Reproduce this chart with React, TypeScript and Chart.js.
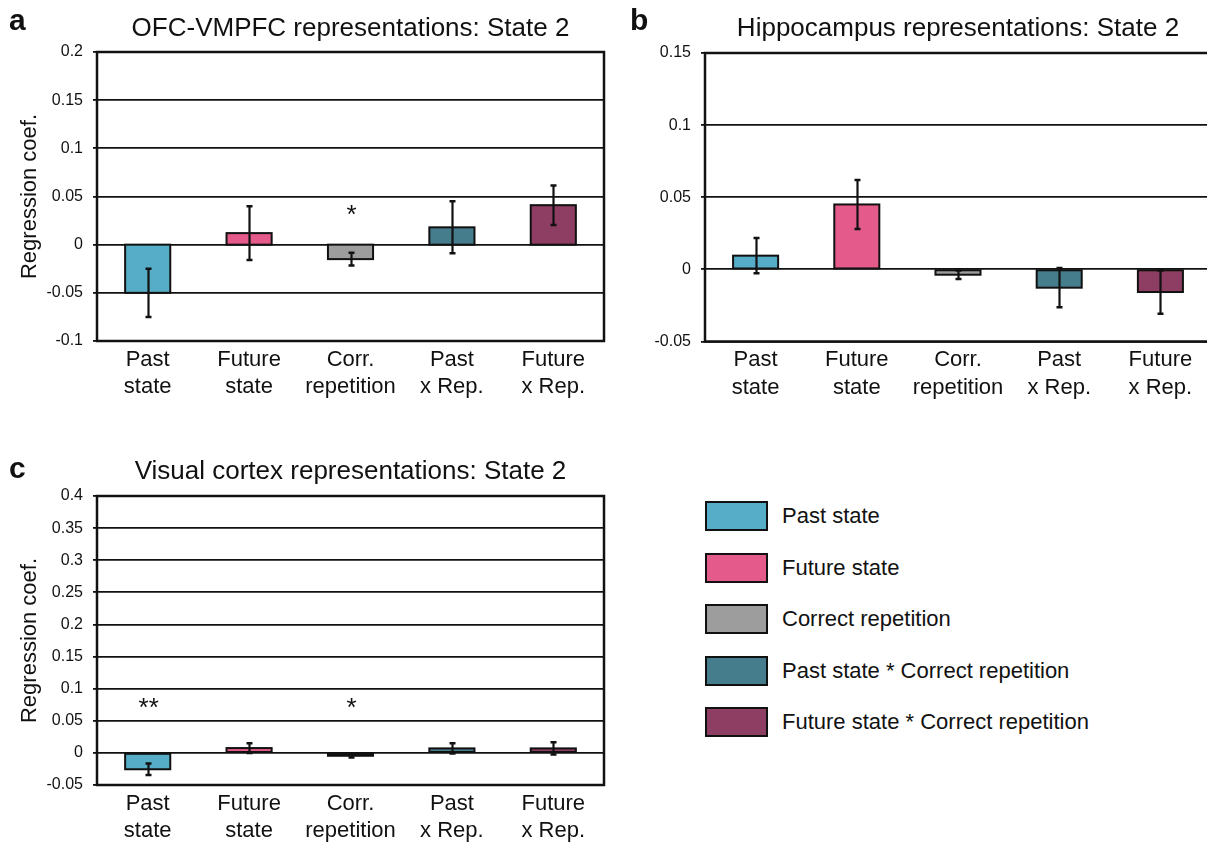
import React, { useEffect, useRef } from 'react';
import { Chart, registerables } from 'chart.js';

Chart.register(...registerables);

const FONT = "'Liberation Sans', Arial, Helvetica, sans-serif";
const INK = '#111111';

// ---------- data ----------
const categories: string[][] = [
  ['Past', 'state'],
  ['Future', 'state'],
  ['Corr.', 'repetition'],
  ['Past', 'x Rep.'],
  ['Future', 'x Rep.'],
];
const legendNames = [
  'Past state',
  'Future state',
  'Correct repetition',
  'Past state * Correct repetition',
  'Future state * Correct repetition',
];
const barColors = ['#55adc7', '#e35a8b', '#9d9d9d', '#457d8c', '#8e3e62'];

// a: OFC-VMPFC
const ofcValues = [-0.05, 0.012, -0.015, 0.018, 0.041];
const ofcErrors = [0.025, 0.028, 0.0065, 0.027, 0.0205];
const ofcSignif = ['', '', '*', '', ''];

// b: Hippocampus
const hippoValues = [0.0095, 0.045, -0.0037, -0.0127, -0.0157];
const hippoErrors = [0.0122, 0.017, 0.003, 0.0136, 0.015];
const hippoSignif = ['', '', '', '', ''];

// c: Visual cortex
const visualValues = [-0.0255, 0.0075, -0.0045, 0.007, 0.007];
const visualErrors = [0.009, 0.0075, 0.0025, 0.008, 0.0095];
const visualSignif = ['**', '', '*', '', ''];

type Panel = {
  title: string;
  values: number[];
  errors: number[];
  signif: string[];
  sigAt: number;
  min: number;
  max: number;
  step: number;
  yTitle: string | null;
  box: { left: number; top: number; w: number; h: number };
  axisW: number;
  axisH: number;
  padR: number;
  titleTop: number;
  titleBottom: number;
};

const panels: Panel[] = [
  {
    title: 'OFC-VMPFC representations: State 2',
    values: ofcValues, errors: ofcErrors, signif: ofcSignif, sigAt: 0.036,
    min: -0.1, max: 0.2, step: 0.05, yTitle: 'Regression coef.',
    box: { left: 0, top: 0, w: 620, h: 420 },
    axisW: 97, axisH: 79, padR: 16, titleTop: 13.5, titleBottom: 7.3,
  },
  {
    title: 'Hippocampus representations: State 2',
    values: hippoValues, errors: hippoErrors, signif: hippoSignif, sigAt: 0,
    min: -0.05, max: 0.15, step: 0.05, yTitle: null,
    box: { left: 600, top: 0, w: 620, h: 420 },
    axisW: 105, axisH: 78.5, padR: 9, titleTop: 13.5, titleBottom: 8.3,
  },
  {
    title: 'Visual cortex representations: State 2',
    values: visualValues, errors: visualErrors, signif: visualSignif, sigAt: 0.077,
    min: -0.05, max: 0.4, step: 0.05, yTitle: 'Regression coef.',
    box: { left: 0, top: 440, w: 620, h: 408 },
    axisW: 97, axisH: 63, padR: 16, titleTop: 16.5, titleBottom: 8.3,
  },
];

function BarPanel({ p }: { p: Panel }) {
  const ref = useRef<HTMLCanvasElement | null>(null);
  useEffect(() => {
    if (!ref.current) return;
    const overlayPlugin = {
      id: 'barOutlineErrorBarsFrame',
      afterDatasetsDraw(chart: any) {
        const { ctx, chartArea, scales } = chart;
        const y = scales.y;
        const meta = chart.getDatasetMeta(0);
        ctx.save();
        ctx.strokeStyle = INK;
        // bar outlines (stroked on the edge, so thin bars keep their colour)
        ctx.lineWidth = 2;
        meta.data.forEach((bar: any) => {
          const top = Math.min(bar.y, bar.base);
          const h = Math.abs(bar.base - bar.y);
          ctx.strokeRect(bar.x - bar.width / 2, top, bar.width, h);
        });
        // frame
        ctx.lineWidth = 2.5;
        ctx.strokeRect(chartArea.left, chartArea.top, chartArea.right - chartArea.left, chartArea.bottom - chartArea.top);
        // error bars
        meta.data.forEach((bar: any, i: number) => {
          const v = p.values[i];
          const e = p.errors[i];
          const x = Math.round(bar.x) + 0.5;
          const yT = y.getPixelForValue(v + e);
          const yB = y.getPixelForValue(v - e);
          ctx.lineWidth = 2.2;
          ctx.beginPath();
          ctx.moveTo(x, yT);
          ctx.lineTo(x, yB);
          ctx.stroke();
          ctx.lineWidth = 2.5;
          ctx.beginPath();
          ctx.moveTo(x - 3, yT);
          ctx.lineTo(x + 3, yT);
          ctx.moveTo(x - 3, yB);
          ctx.lineTo(x + 3, yB);
          ctx.stroke();
        });
        // significance marks
        ctx.fillStyle = INK;
        ctx.font = `26px ${FONT}`;
        ctx.textAlign = 'center';
        ctx.textBaseline = 'alphabetic';
        meta.data.forEach((bar: any, i: number) => {
          const s = p.signif[i];
          if (!s) return;
          const m = ctx.measureText(s);
          const off = (m.actualBoundingBoxAscent - m.actualBoundingBoxDescent) / 2;
          ctx.fillText(s, bar.x + 1, y.getPixelForValue(p.sigAt) + off);
        });
        ctx.restore();
      },
    };

    const chart = new Chart(ref.current, {
      type: 'bar',
      data: {
        labels: categories,
        datasets: [
          {
            data: p.values,
            backgroundColor: barColors,
            borderWidth: 0,
            barPercentage: 0.445,
            categoryPercentage: 1,
          },
        ],
      },
      options: {
        animation: false,
        responsive: false,
        devicePixelRatio: 1,
        layout: { padding: { left: 0, right: p.padR, top: 0, bottom: 0 } },
        plugins: {
          legend: { display: false },
          tooltip: { enabled: false },
          title: {
            display: true,
            text: p.title,
            fullSize: false,
            color: INK,
            font: { family: FONT, size: 26, weight: 'normal', lineHeight: 1.2 },
            padding: { top: p.titleTop, bottom: p.titleBottom },
          },
        },
        scales: {
          x: {
            grid: { display: false, drawTicks: false },
            border: { display: false },
            ticks: {
              color: INK,
              font: { family: FONT, size: 22, lineHeight: 1.25 },
              padding: 5,
              autoSkip: false,
              maxRotation: 0,
              minRotation: 0,
            },
            afterFit: (s: any) => {
              s.height = p.axisH;
            },
          },
          y: {
            min: p.min,
            max: p.max,
            grid: { color: INK, lineWidth: 1.8, tickLength: 4, drawTicks: true },
            border: { display: false },
            ticks: {
              stepSize: p.step,
              color: INK,
              padding: 10,
              font: { family: FONT, size: 16 },
              callback: (v: any) => String(Math.round(Number(v) * 1000) / 1000),
            },
            title: {
              display: !!p.yTitle,
              text: p.yTitle || '',
              color: INK,
              font: { family: FONT, size: 22, lineHeight: 1.2 },
              padding: { top: 17, bottom: 0 },
            },
            afterFit: (s: any) => {
              s.width = p.axisW;
            },
          },
        },
      },
      plugins: [overlayPlugin],
    } as any);
    return () => chart.destroy();
  }, [p]);

  return (
    <canvas
      ref={ref}
      width={p.box.w}
      height={p.box.h}
      style={{ position: 'absolute', left: p.box.left, top: p.box.top, width: p.box.w, height: p.box.h }}
    />
  );
}

const letterStyle: React.CSSProperties = {
  position: 'absolute',
  fontFamily: FONT,
  fontWeight: 'bold',
  fontSize: 30,
  lineHeight: '30px',
  color: INK,
};

export default function App() {
  return (
    <div
      style={{
        position: 'absolute',
        left: 0,
        top: 0,
        width: 1207,
        height: 848,
        overflow: 'hidden',
        background: '#ffffff',
      }}
    >
      {panels.map((p, i) => (
        <BarPanel key={i} p={p} />
      ))}
      <div style={{ ...letterStyle, left: 9, top: 5 }}>a</div>
      <div style={{ ...letterStyle, left: 630, top: 5 }}>b</div>
      <div style={{ ...letterStyle, left: 9, top: 453 }}>c</div>
      {legendNames.map((name, i) => (
        <div
          key={name}
          style={{
            position: 'absolute',
            left: 705,
            top: 501 + i * 51.5,
            height: 30,
            display: 'flex',
            alignItems: 'center',
            fontFamily: FONT,
            fontSize: 22,
            color: INK,
            whiteSpace: 'nowrap',
          }}
        >
          <div
            style={{
              width: 63,
              height: 30,
              boxSizing: 'border-box',
              border: `2.5px solid ${INK}`,
              background: barColors[i],
              marginRight: 14,
            }}
          />
          <span>{name}</span>
        </div>
      ))}
    </div>
  );
}
